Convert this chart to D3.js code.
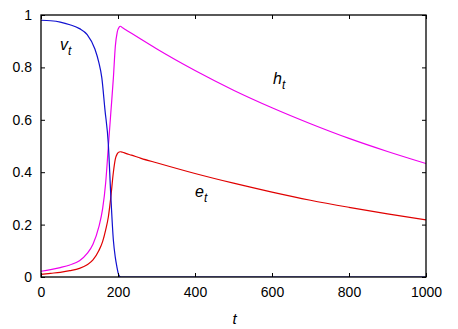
<!DOCTYPE html>
<html><head><meta charset="utf-8">
<script src="https://cdn.jsdelivr.net/npm/d3@7"></script>
<style>
html,body{margin:0;padding:0;background:#fff;}
svg text{font-family:"Liberation Sans",Arial,Helvetica,sans-serif;}
</style></head>
<body><svg id="chart" width="458" height="329"></svg>
<script>
// Data
const tV = [0,25,50,75,100,120,140,150,158,166,175,181,188,193,197,201,204,207,250,400,600,800,1000];
const vValues = [0.980,0.978,0.973,0.963,0.948,0.925,0.870,0.820,0.760,0.640,0.505,0.320,0.140,0.075,0.040,0.012,0.003,0,0,0,0,0,0];

const tH = [0,25,50,75,100,120,135,150,160,168,175,181,188,193,198,203,206,212,220,235,260,300,400,500,600,700,800,900,1000];
const hValues = [0.022,0.028,0.036,0.046,0.062,0.090,0.125,0.190,0.260,0.360,0.500,0.620,0.760,0.880,0.935,0.954,0.957,0.951,0.944,0.930,0.907,0.871,0.788,0.713,0.646,0.585,0.529,0.479,0.433];

const tE = [0,25,50,75,100,120,135,150,160,168,175,181,188,193,198,203,207,212,220,235,260,300,400,500,600,700,800,900,1000];
const eValues = [0.010,0.014,0.018,0.024,0.033,0.047,0.065,0.100,0.135,0.180,0.230,0.300,0.400,0.450,0.470,0.477,0.478,0.476,0.472,0.465,0.453,0.436,0.395,0.358,0.324,0.293,0.266,0.241,0.218];

const xTicks = [0,200,400,600,800,1000];
const yTicks = [0,0.2,0.4,0.6,0.8,1];
const yTickLabels = ["0","0.2","0.4","0.6","0.8","1"];
const xLabel = "t";

const svg = d3.select("#chart");
const L = 41, R = 426, T = 15, B = 277;
const x = d3.scaleLinear().domain([0,1000]).range([L,R]);
const y = d3.scaleLinear().domain([0,1]).range([B,T]);

const line = d3.line().x(d=>x(d[0])).y(d=>y(d[1])).curve(d3.curveMonotoneX);
const series = [
  {t:tH, v:hValues, color:"#ee00ee"},
  {t:tE, v:eValues, color:"#e00000"},
  {t:tV, v:vValues, color:"#1010d0"}
];
const clip = svg.append("clipPath").attr("id","c").append("rect")
  .attr("x",L).attr("y",T).attr("width",R-L).attr("height",B-T);
series.forEach(s=>{
  svg.append("path").datum(s.t.map((t,i)=>[t,s.v[i]]))
    .attr("d",line).attr("fill","none").attr("stroke",s.color)
    .attr("stroke-width",1.2).attr("clip-path","url(#c)");
});

function styleAxis(g, labels){
  g.select(".domain").remove();
  g.selectAll(".tick line").attr("stroke","#000").attr("stroke-width",1);
  g.selectAll("text").attr("font-size",14).attr("fill","#000");
  if(!labels) g.selectAll("text").remove();
}
svg.append("g").attr("transform",`translate(0,${B})`)
  .call(d3.axisBottom(x).tickValues(xTicks).tickSize(-4).tickPadding(10).tickFormat(d3.format("d")))
  .call(g=>styleAxis(g,true));
svg.append("g").attr("transform",`translate(0,${T})`)
  .call(d3.axisTop(x).tickValues(xTicks).tickSize(-4))
  .call(g=>styleAxis(g,false));
svg.append("g").attr("transform",`translate(${L},0)`)
  .call(d3.axisLeft(y).tickValues(yTicks).tickSize(-4).tickPadding(9).tickFormat((d,i)=>yTickLabels[i]))
  .call(g=>styleAxis(g,true));
svg.append("g").attr("transform",`translate(${R},0)`)
  .call(d3.axisRight(y).tickValues(yTicks).tickSize(-4))
  .call(g=>styleAxis(g,false));

svg.append("rect").attr("x",L).attr("y",T).attr("width",R-L).attr("height",B-T)
  .attr("fill","none").attr("stroke","#000").attr("stroke-width",1.3);

svg.append("text").attr("x",(L+R)/2+1).attr("y",324).attr("text-anchor","middle")
  .attr("font-size",15).attr("font-style","italic").text(xLabel);

function label(px,py,main){
  const t = svg.append("text").attr("x",px).attr("y",py).attr("font-size",16).attr("font-style","italic");
  t.append("tspan").text(main);
  t.append("tspan").attr("dy",5).attr("font-size",12).text("t");
}
label(60,50,"v");
label(273,84,"h");
label(195,197,"e");
</script></body></html>
